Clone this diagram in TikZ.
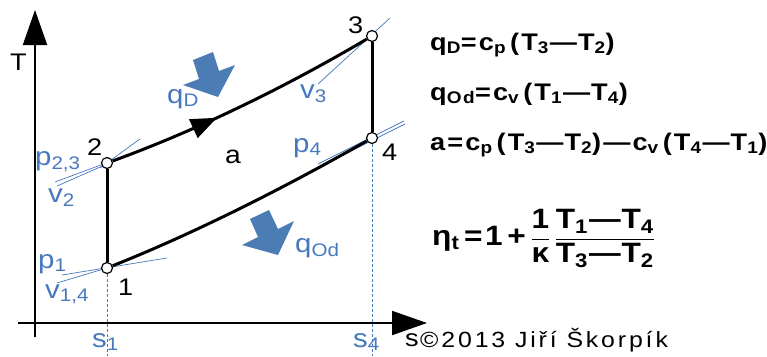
\documentclass[tikz,border=0pt]{standalone}
\usepackage{fontspec}
\setmainfont{Liberation Sans}[FakeStretch=1.13]
\newfontfamily\formfont{Liberation Sans}[FakeStretch=1.13, LetterSpace=9]
\newfontfamily\copyfont{Liberation Sans}[FakeStretch=1.13, LetterSpace=13]
\usetikzlibrary{arrows.meta, positioning, decorations.markings}

\definecolor{lineblue}{RGB}{70,120,190}
\definecolor{heatblue}{RGB}{75,125,180}
\newcommand{\sub}[1]{\textsubscript{#1}}
\newcommand{\mn}{\hspace{1pt}—\hspace{1pt}}

\begin{document}
\begin{tikzpicture}[
    x=1pt, y=-1pt,
    % Styles
    axis/.style={line width=2pt, -{Triangle[length=35pt,width=24pt]}},
    cycleline/.style={line width=3pt, line join=round},
    flowmark/.style={postaction={decorate, decoration={markings,
        mark=at position #1 with {\arrow{Triangle[length=26pt,width=20pt]}}}}},
    pointmark/.style={circle, draw, line width=1.2pt, fill=white, minimum size=11pt, inner sep=0pt},
    num/.style={font=\fontsize{24}{26}\selectfont, anchor=base west, inner sep=0pt},
    bluelabel/.style={font=\fontsize{26}{28}\selectfont, text=lineblue, anchor=base west, inner sep=0pt},
    tangent/.style={draw=lineblue, line width=0.7pt},
    guide/.style={draw=lineblue, densely dashed, line width=0.8pt},
    heat/.style={fill=heatblue},
    formula/.style={font=\formfont\bfseries\fontsize{#1}{30}\selectfont, anchor=base west, inner sep=0pt},
]
\useasboundingbox (0,0) rectangle (767,356);

% ── Axes ──
\coordinate (Tfoot) at (35,337);
\coordinate (Ttip) at (35,10);
\coordinate (sfoot) at (18,323);
\coordinate (stip) at (427,323);
\draw[axis] (Tfoot) -- (Ttip);
\draw[axis] (sfoot) -- (stip);

% ── Tangent lines (isobars, isochores) ──
\draw[tangent] (55,182) -- (125,156);
\draw[tangent] (57,186) -- (107,164);
\draw[tangent] (100,168) -- (140,139);
\draw[tangent] (62,275) -- (167,258);
\draw[tangent] (57,283) -- (120,264);
\draw[tangent] (318,84) -- (390,18);
\draw[tangent] (318,164) -- (404,121);
\draw[tangent] (319,167) -- (405,124);

% ── States ──
\node[pointmark] (p1) at (107,268) {};
\node[pointmark] (p2) at (107,163) {};
\node[pointmark] (p3) at (372,36) {};
\node[pointmark] (p4) at (372,138) {};

% ── Cycle ──
\draw[cycleline] (p1) -- (p2);
\draw[cycleline, flowmark=0.4] (p2) .. controls (195,131) and (284,88) .. (p3);
\draw[cycleline] (p3) -- (p4);
\draw[cycleline] (p1) .. controls (195,233) and (284,188) .. (p4);

% ── Entropy guides ──
\coordinate (s1foot) at (107,356);
\coordinate (s4foot) at (372,356);
\draw[guide] (p1) -- (s1foot);
\draw[guide] (p4) -- (s4foot);

% ── Heat arrows ──
\fill[heat] (193,60) -- (213,52) -- (219,71) -- (235,65) -- (218,97)
    -- (183,85) -- (199,79) -- cycle;
\fill[heat] (250,219) -- (269,210) -- (278,229) -- (294,221) -- (278,255)
    -- (242,245) -- (258,237) -- cycle;

% ── Labels ──
\node[num] (Tlabel) at (10,70) {T};
\node[num] (n1) at (118,295) {1};
\node[num] (n2) at (87,155) {2};
\node[num] (n3) at (348,33) {3};
\node[num] (n4) at (382,160) {4};
\node[num, font=\fontsize{25}{27}\selectfont] (alabel) at (225,163) {a};
\node[num] (slabel) at (405,346) {s};

\node[bluelabel] (qD) at (167,103) {q\sub{D}};
\node[bluelabel] (qOd) at (295,252) {q\sub{Od}};
\node[bluelabel] (v3) at (300,98) {v\sub{3}};
\node[bluelabel] (p4l) at (293,152) {p\sub{4}};
\node[bluelabel] (p23) at (35,165) {p\sub{2,3}};
\node[bluelabel] (v2) at (48,202) {v\sub{2}};
\node[bluelabel] (p1l) at (38,268) {p\sub{1}};
\node[bluelabel] (v14) at (45,298) {v\sub{1,4}};
\node[bluelabel] (s1) at (92,347) {s\sub{1}};
\node[bluelabel] (s4) at (353,347) {s\sub{4}};

% ── Formulas ──
\node[formula=24] (heatin) at (430,50) {q\sub{D}=c\sub{p}\,(T\sub{3}\mn T\sub{2})};
\node[formula=24] (heatout) at (430,100) {q\sub{Od}=c\sub{v}\,(T\sub{1}\mn T\sub{4})};
\node[formula=24] (work) at (430,150) {a=c\sub{p}\,(T\sub{3}\mn T\sub{2})—c\sub{v}\,(T\sub{4}\mn T\sub{1})};
\node[formula=28] (eff) at (432,245) {η\sub{t}\,=1\,+\,$\displaystyle\frac{\mbox{1}}{\mbox{κ}}\,\frac{\mbox{T\sub{1}\mn T\sub{4}}}{\mbox{T\sub{3}\mn T\sub{2}}}$};

\node[anchor=base west, inner sep=0pt, font=\copyfont\fontsize{22}{24}\selectfont] (copy) at (420,347) {©2013 Jiří Škorpík};

\end{tikzpicture}
\end{document}
